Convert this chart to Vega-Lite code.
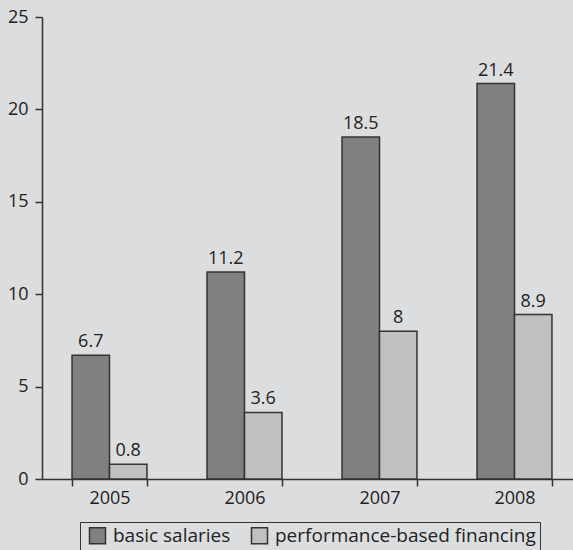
{
  "$schema": "https://vega.github.io/schema/vega-lite/v6.json",
  "autosize": "none",
  "width": 540,
  "height": 462,
  "padding": {"left": 42, "top": 17, "right": 0, "bottom": 71},
  "background": "#dcdddf",
  "config": {
    "font": "Open Sans",
    "view": {"stroke": null},
    "axis": {"domainColor": "#333333", "tickColor": "#333333", "labelColor": "#222222", "labelFontSize": 18, "tickSize": 7, "domainWidth": 1.5, "tickWidth": 1.5, "grid": false}
  },
  "data": {
    "values": [
      {"year": "2005", "series": "basic salaries", "value": 6.7},
      {"year": "2005", "series": "performance-based financing", "value": 0.8},
      {"year": "2006", "series": "basic salaries", "value": 11.2},
      {"year": "2006", "series": "performance-based financing", "value": 3.6},
      {"year": "2007", "series": "basic salaries", "value": 18.5},
      {"year": "2007", "series": "performance-based financing", "value": 8},
      {"year": "2008", "series": "basic salaries", "value": 21.4},
      {"year": "2008", "series": "performance-based financing", "value": 8.9}
    ]
  },
  "encoding": {
    "x": {"field": "year", "type": "nominal", "title": null,
      "scale": {"paddingInner": 0.445, "paddingOuter": 0.2225},
      "axis": {"labelAngle": 0, "tickBand": "extent", "labelPadding": 3}},
    "xOffset": {"field": "series", "type": "nominal", "scale": {"paddingInner": 0}},
    "y": {"field": "value", "type": "quantitative", "title": null,
      "scale": {"domain": [0, 25], "nice": false},
      "axis": {"values": [0, 5, 10, 15, 20, 25], "labelPadding": 7}}
  },
  "layer": [
    {
      "mark": {"type": "bar", "stroke": "#333333", "strokeWidth": 1.5},
      "encoding": {
        "color": {"field": "series", "type": "nominal", "title": null,
          "scale": {"domain": ["basic salaries", "performance-based financing"], "range": ["#808080", "#c0c0c0"]},
          "legend": {"orient": "none", "legendX": 38, "legendY": 505, "direction": "horizontal", "symbolType": "square", "symbolSize": 256, "symbolStrokeColor": "#333333", "symbolStrokeWidth": 1.5, "symbolOffset": 4, "labelFontSize": 19, "labelColor": "#222222", "strokeColor": "#333333", "padding": 4, "columnPadding": 15, "labelLimit": 400, "labelOffset": 6}}
      }
    },
    {
      "mark": {"type": "text", "dy": -13, "fontSize": 18, "color": "#222222"},
      "encoding": {"text": {"field": "value", "type": "quantitative"}}
    }
  ]
}
